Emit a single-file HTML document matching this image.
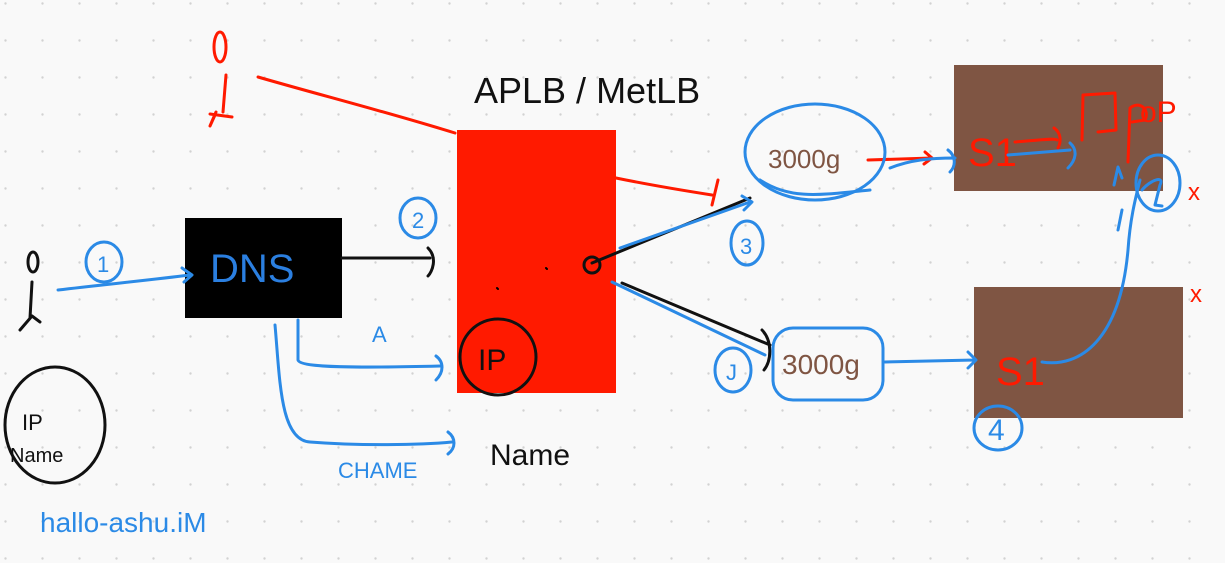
<!DOCTYPE html>
<html><head><meta charset="utf-8"><style>
html,body{margin:0;padding:0;background:#f9f9f9;}
svg{display:block}
text{font-family:"Liberation Sans",sans-serif;}
</style></head><body>
<svg width="1225" height="563" viewBox="0 0 1225 563">
<defs><pattern id="dots" x="4" y="2" width="37" height="37" patternUnits="userSpaceOnUse"><circle cx="1.5" cy="1.5" r="1.2" fill="#d2d2d2"/></pattern></defs>
<rect width="1225" height="563" fill="url(#dots)"/>
<rect x="185" y="218" width="157" height="100" fill="#000"/>
<rect x="457" y="130" width="159" height="263" fill="#ff1a00"/>
<rect x="954" y="65" width="209" height="126" fill="#7f5543"/>
<rect x="974" y="287" width="209" height="131" fill="#7f5543"/>
<g fill="none" stroke-linecap="round" stroke-linejoin="round">
<g stroke="#ff1a00" stroke-width="3">
<ellipse cx="220" cy="47" rx="6" ry="15"/>
<path d="M226 75 L223 112 M215 115 L210 126 L216 112 M210 114 L232 117"/>
<path d="M258 77 C320 95 380 110 455 133"/>
<path d="M616 178 C650 185 680 190 712 195 M718 180 L712 205"/>
<path d="M868 160 L932 158 M925 152 L932 158 L924 164"/>
<path d="M1015 142 C1040 140 1055 138 1057 140 M1054 128 C1060 132 1062 140 1058 148"/>
<path d="M1082 140 L1083 95 L1115 93 L1116 130 L1098 132"/>
<path d="M1128 162 L1130 108 C1140 100 1150 110 1145 120 L1132 122"/>
</g>
<g fill="#ff1a00" stroke="none">
<text x="968" y="166" font-size="40">S1</text>
<text x="1140" y="122" font-size="30">oP</text>
<text x="1188" y="200" font-size="24">x</text>
<text x="1190" y="302" font-size="24">x</text>
<text x="996" y="385" font-size="40">S1</text>
</g>
<g stroke="#111" stroke-width="3">
<ellipse cx="33" cy="262" rx="5" ry="10"/>
<path d="M32 282 L30 318 M20 330 L32 316 L40 322"/>
<ellipse cx="55" cy="425" rx="50" ry="58"/>
<path d="M342 258 L430 258 M428 248 C438 258 432 272 428 276"/>
<path d="M592 263 L750 198 M622 283 L770 345 M762 330 C772 340 772 360 764 370"/>
<circle cx="592" cy="265" r="8"/>
<ellipse cx="498" cy="357" rx="38" ry="38"/>
</g>
<g stroke="#2b8ae6" stroke-width="3">
<path d="M58 290 C100 285 150 280 190 275 M182 268 L192 275 L184 282"/>
<ellipse cx="104" cy="262" rx="18" ry="20"/>
<ellipse cx="418" cy="218" rx="18" ry="20"/>
<path d="M298 320 L298 360 C300 368 360 368 440 366 M436 356 C444 362 444 372 436 380"/>
<path d="M275 325 C280 380 280 440 310 442 C360 446 420 445 452 442 M448 432 C456 438 456 448 448 454"/>
<path d="M620 248 L750 202 M742 196 L752 202 L744 210"/>
<ellipse cx="747" cy="243" rx="16" ry="22"/>
<path d="M612 282 L765 355"/>
<ellipse cx="733" cy="370" rx="18" ry="22"/>
<ellipse cx="815" cy="152" rx="70" ry="48"/>
<path d="M760 180 C790 200 820 195 870 190"/>
<rect x="773" y="328" width="110" height="72" rx="20"/>
<path d="M885 362 L975 360 M968 352 L976 360 L968 368"/>
<path d="M890 168 C910 160 930 158 955 158 M948 150 C956 156 956 166 950 172"/>
<path d="M1008 155 L1070 150 M1070 143 C1078 150 1076 160 1068 168"/>
<path d="M1042 362 C1080 368 1120 340 1128 250 C1130 220 1135 200 1140 180 M1114 185 L1118 167 L1122 178"/>
<path d="M1122 210 L1118 230"/>
<ellipse cx="1158" cy="183" rx="22" ry="28"/>
<path d="M1142 190 C1150 180 1165 175 1160 185 L1155 205 L1162 206"/>
<ellipse cx="998" cy="428" rx="24" ry="22"/>
</g>
<g fill="#2b8ae6" stroke="none" font-size="22">
<text x="97" y="272">1</text><text x="412" y="228">2</text><text x="740" y="254">3</text><text x="726" y="380">J</text><text x="988" y="440" font-size="30">4</text>
<text x="372" y="342">A</text>
<text x="338" y="478">CHAME</text>
<text x="40" y="532" font-size="28">hallo-ashu.iM</text>
</g>
<text x="474" y="103" font-size="36" fill="#111" stroke="none">APLB / MetLB</text>
<text x="478" y="370" font-size="30" fill="#111" stroke="none">IP</text>
<text x="490" y="465" font-size="30" fill="#111" stroke="none">Name</text>
<text x="210" y="282" font-size="40" fill="#2b7fe0" stroke="none">DNS</text>
<text x="22" y="430" font-size="22" fill="#111" stroke="none">IP</text>
<text x="10" y="462" font-size="20" fill="#111" stroke="none">Name</text>
<text x="768" y="168" font-size="26" fill="#7f5543" stroke="none">3000g</text>
<text x="782" y="374" font-size="28" fill="#7f5543" stroke="none">3000g</text>
<path d="M497 288 l1 1 M546 268 l1 1" stroke="#000" stroke-width="2"/>
</g>
</svg>
</body></html>
